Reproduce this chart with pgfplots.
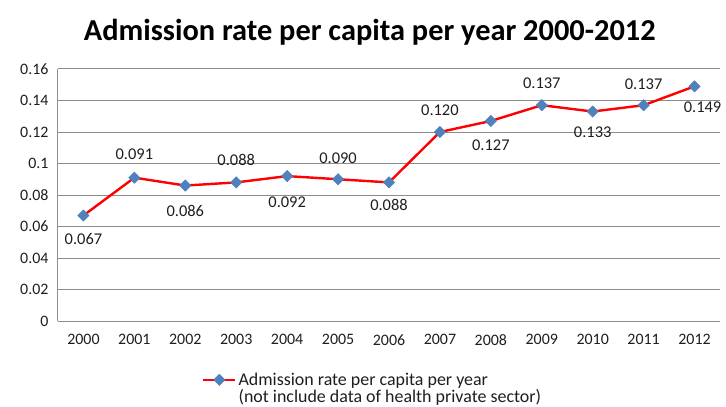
\documentclass[border=0pt]{standalone}
\usepackage{pgfplots}
\usepackage{pgfplotstable}
\pgfplotsset{compat=1.18}
\usepackage{fontspec}
\setmainfont{Carlito}
\definecolor{linered}{HTML}{FF0000}
\definecolor{markblue}{HTML}{4F81BD}
\definecolor{gridgray}{HTML}{8C8C8C}
\definecolor{txt}{HTML}{1E1E1E}

\pgfplotstableread{
year val lab dx dy
2000 0.067 0.067 0 -24
2001 0.091 0.091 0 23
2002 0.086 0.086 0 -25
2003 0.088 0.088 0 22
2004 0.092 0.092 0 -26
2005 0.090 0.090 0 21
2006 0.088 0.088 0 -23
2007 0.120 0.120 0 22
2008 0.127 0.127 0 -24
2009 0.137 0.137 0 22
2010 0.133 0.133 0 -21
2011 0.137 0.137 0 21
2012 0.149 0.149 8 -21
}\datatable

\begin{document}
\begin{tikzpicture}
\begin{axis}[
  scale only axis,
  width=662bp, height=252bp,
  xmin=1999.5, xmax=2012.5,
  ymin=0, ymax=0.16,
  xtick={2000,2001,...,2012},
  xticklabels={2000,2001,2002,2003,2004,2005,2006,2007,2008,2009,2010,2011,2012},
  ytick={0,0.02,0.04,0.06,0.08,0.1,0.12,0.14,0.16},
  yticklabels={0,0.02,0.04,0.06,0.08,0.1,0.12,0.14,0.16},
  major tick length=0pt,
  axis lines*=left,
  axis line style={-, draw=gridgray, line width=1bp},
  ymajorgrids,
  grid style={draw=gridgray, line width=1bp},
  tick label style={font=\fontsize{16}{18}\selectfont, text=txt},
  xticklabel style={yshift=-10bp},
  yticklabel style={xshift=-6bp},
  title={Admission rate per capita per year 2000-2012},
  title style={at={(0.471,1)}, anchor=center, yshift=31bp,
    font=\bfseries\fontsize{30.5}{34}\selectfont, text=black},
  legend style={at={(0.2175,-0.197)}, anchor=north west, draw=none, fill=none,
    inner sep=0pt, row sep=-1bp, font=\fontsize{18}{20}\selectfont, text=txt,
    cells={anchor=west, inner ysep=0pt, inner xsep=1bp}},
  legend image code/.code={
    \draw[#1, mark repeat=2, mark phase=2] plot coordinates {(0bp,0bp) (16bp,0bp) (32bp,0bp)};
  },
  clip=false,
]
\addplot[
  color=linered, line width=2.4bp,
  mark=square*, mark size=4bp,
  mark options={rotate=45, fill=markblue, draw=markblue, line width=0.5bp},
  point meta=explicit symbolic,
  visualization depends on={\thisrow{dx} \as \dx},
  visualization depends on={\thisrow{dy} \as \dy},
  nodes near coords,
  every node near coord/.append style={anchor=center, xshift=\dx bp, yshift=\dy bp,
    font=\fontsize{16.5}{18}\selectfont, text=txt},
] table[x=year, y=val, meta=lab] {\datatable};
\addlegendentry{Admission rate per capita per year}
\addlegendimage{empty legend}
\addlegendentry{(not include data of health private sector)}
\coordinate (P) at (rel axis cs:0,0);
\coordinate (Q) at (rel axis cs:1,1);
\end{axis}
\pgfresetboundingbox
\path[use as bounding box] ([xshift=-58bp,yshift=-86bp]P) rectangle ([xshift=6bp,yshift=69bp]Q);
\end{tikzpicture}
\end{document}
